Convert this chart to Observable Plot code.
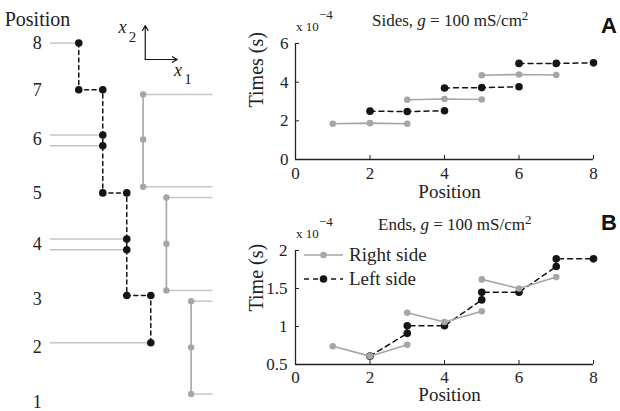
<!DOCTYPE html>
<html><head><meta charset="utf-8">
<script src="https://cdn.jsdelivr.net/npm/d3@7"></script>
<script src="https://cdn.jsdelivr.net/npm/@observablehq/plot@0.6"></script>
<style>
body{margin:0;background:#fff;}
#wrap{position:relative;width:620px;height:411px;overflow:hidden;font-family:"Liberation Serif",serif;}
#wrap > svg{position:absolute;background:transparent;overflow:visible;}
#wrap svg text{font-family:"Liberation Serif",serif;font-variant:normal;font-variant-numeric:normal;}
#wrap svg text.panel-letter{font-family:"Liberation Sans",sans-serif;font-weight:bold;}
</style></head><body><div id="wrap"></div>
<script>
// ---------- Panel A: sides ----------
const sidesRightPos   = [1, 2, 3,  3, 4, 5,  5, 6, 7];
const sidesRightVal   = [1.85, 1.88, 1.85,  3.09, 3.13, 3.10,  4.36, 4.40, 4.37];
const sidesRightGroup = [0, 0, 0,  1, 1, 1,  2, 2, 2];
const sidesLeftPos    = [2, 3, 4,  4, 5, 6,  6, 7, 8];
const sidesLeftVal    = [2.50, 2.48, 2.52,  3.70, 3.72, 3.76,  4.97, 4.97, 5.00];
const sidesLeftGroup  = [0, 0, 0,  1, 1, 1,  2, 2, 2];
const sidesTicks = [0, 2, 4, 6];

// ---------- Panel B: ends ----------
const endsRightPos   = [1, 2, 3,  3, 4, 5,  5, 6, 7];
const endsRightVal   = [0.74, 0.61, 0.76,  1.18, 1.06, 1.20,  1.62, 1.50, 1.65];
const endsRightGroup = [0, 0, 0,  1, 1, 1,  2, 2, 2];
const endsLeftPos    = [2, 3, 3, 4, 5, 5, 6, 7, 7, 8];
const endsLeftVal    = [0.61, 0.91, 1.01, 1.01, 1.35, 1.45, 1.45, 1.79, 1.89, 1.89];
const endsTicks = [0.5, 1, 1.5, 2];

const xTicks = [0, 2, 4, 6, 8];
const legendNames = ["Right side", "Left side"];

// ---------- Schematic (left) ----------
const rowLabels     = ["8", "7", "6", "5", "4", "3", "2", "1"];
const rowLabelLevel = [8.0, 7.09, 6.12, 5.08, 4.08, 3.0, 2.07, 1.0];
const chainCol   = [0, 0, 1, 1, 1, 1, 2, 2, 2, 2, 3, 3];
const chainLevel = [8.0, 7.09, 7.09, 6.21, 6.0, 5.08, 5.08, 4.18, 3.97, 3.08, 3.08, 2.16];
const inputIdx   = [0, 3, 4, 7, 8, 11];
const rightCol   = [2.68, 2.68, 2.68,  3.65, 3.65, 3.65,  4.68, 4.68, 4.68];
const rightLevel = [7.0, 6.12, 5.2,  4.99, 4.09, 3.18,  2.97, 2.07, 1.16];
const rightGroup = [0, 0, 0,  1, 1, 1,  2, 2, 2];
const outputIdx  = [0, 2, 3, 5, 6, 8];

const GRAY = "#a6a6a6", LIGHT = "#c6c6c6", BLACK = "#151515";
const FONT = "Liberation Serif";
const fmt = d => String(d);
const blank = () => "";

const wrap = document.getElementById("wrap");
function place(svg, left, top) { svg.style.left = left + "px"; svg.style.top = top + "px"; wrap.appendChild(svg); }

// ---- schematic plot ----
const chain = chainCol.map((c, i) => ({c, l: chainLevel[i]}));
const inputs = inputIdx.map(i => chain[i]);
const rightNodes = rightCol.map((c, i) => ({c, l: rightLevel[i], g: rightGroup[i]}));
const outputs = outputIdx.map(i => rightNodes[i]);
const inStart = -1.21, outEnd = 5.57, labelCol = -1.73;
const origin = [{x: 2.77, y: 7.68}];

const schem = Plot.plot({
  width: 230, height: 411, margin: 0,
  style: {background: "transparent", fontFamily: FONT},
  x: {domain: [-3.26, 6.32], axis: null},
  y: {domain: [0.82, 8.83], axis: null},
  marks: [
    Plot.link(inputs, {x1: inStart, x2: "c", y1: "l", y2: "l", stroke: LIGHT, strokeWidth: 1.5}),
    Plot.link(outputs, {x1: "c", x2: outEnd, y1: "l", y2: "l", stroke: LIGHT, strokeWidth: 1.5}),
    Plot.line(rightNodes, {x: "c", y: "l", z: "g", stroke: GRAY, strokeWidth: 1.6}),
    Plot.dot(rightNodes, {x: "c", y: "l", r: 3.2, fill: GRAY}),
    Plot.line(chain, {x: "c", y: "l", stroke: BLACK, strokeWidth: 1.5, strokeDasharray: "4,3.5"}),
    Plot.dot(chain, {x: "c", y: "l", r: 3.8, fill: BLACK}),
    Plot.text(rowLabels, {x: labelCol, y: (d, i) => rowLabelLevel[i], text: d => d, fontSize: 18, fontFamily: FONT, fill: "#222"}),
    Plot.text(["Position"], {x: -1.72, y: 8.45, text: d => d, fontSize: 20, fontFamily: FONT, fill: "#222"}),
    Plot.arrow(origin, {x1: "x", y1: "y", x2: "x", y2: 8.34, stroke: BLACK, strokeWidth: 1.2, headLength: 7}),
    Plot.arrow(origin, {x1: "x", y1: "y", x2: 4.1, y2: "y", stroke: BLACK, strokeWidth: 1.2, headLength: 7}),
    Plot.text(["x"], {x: 1.82, y: 8.3, text: d => d, fontSize: 18, fontStyle: "italic", fontFamily: FONT, fill: "#222"}),
    Plot.text(["2"], {x: 1.82, y: 8.3, text: d => d, fontSize: 15, dx: 10, dy: 9, fontFamily: FONT, fill: "#222"}),
    Plot.text(["x"], {x: 4.13, y: 7.47, text: d => d, fontSize: 18, fontStyle: "italic", fontFamily: FONT, fill: "#222"}),
    Plot.text(["1"], {x: 4.13, y: 7.47, text: d => d, fontSize: 15, dx: 10, dy: 9, fontFamily: FONT, fill: "#222"})
  ]
});
place(schem, 0, 0);

// ---- helpers for panel annotations ----
function annotate(svg, {title, titleX, titleY, expY, letter, letterY}) {
  const s = d3.select(svg);
  const t = s.append("text").attr("x", titleX).attr("y", titleY).attr("text-anchor", "start")
    .attr("font-size", 17).attr("fill", "#222");
  t.append("tspan").text(title + ", ");
  t.append("tspan").attr("font-style", "italic").text("g");
  t.append("tspan").text(" = 100 mS/cm");
  t.append("tspan").attr("font-size", 13).attr("dy", -6).text("2");
  s.append("text").attr("x", 66).attr("y", expY).attr("text-anchor", "start").attr("font-size", 13).attr("fill", "#222").text("x 10");
  s.append("text").attr("x", 89).attr("y", expY - 12).attr("text-anchor", "start").attr("font-size", 13).attr("fill", "#222").text("\u22124");
  s.append("text").attr("class", "panel-letter").attr("x", 371).attr("y", letterY).attr("text-anchor", "start")
    .attr("font-size", 22).attr("fill", "#111").text(letter);
}

function axes(ticksY, padX, padY) {
  return [
    Plot.axisX({ticks: xTicks, tickFormat: fmt, tickSize: 0, tickPadding: padX, fontSize: 17, fontFamily: FONT, fontVariant: "normal", label: null}),
    Plot.axisX({ticks: xTicks, tickFormat: blank, tickSize: 4, dy: -4, label: null, stroke: "#222"}),
    Plot.axisY({ticks: ticksY, tickFormat: fmt, tickSize: 0, tickPadding: padY, fontSize: 17, fontFamily: FONT, fontVariant: "normal", label: null}),
    Plot.axisY({ticks: ticksY, tickFormat: blank, tickSize: 4, dx: 4, label: null, stroke: "#222"})
  ];
}

// ---- Panel A ----
const sRight = sidesRightPos.map((p, i) => ({p, t: sidesRightVal[i], g: sidesRightGroup[i]}));
const sLeft = sidesLeftPos.map((p, i) => ({p, t: sidesLeftVal[i], g: sidesLeftGroup[i]}));
const A = Plot.plot({
  width: 390, height: 205, marginLeft: 65, marginRight: 27, marginTop: 43, marginBottom: 46,
  style: {background: "transparent", fontFamily: FONT, color: "#222", overflow: "visible"},
  x: {domain: [0, 8]}, y: {domain: [0, 6]},
  marks: [
    ...axes(sidesTicks, 7, 7),
    Plot.ruleY([0], {stroke: "#222", strokeWidth: 1.3}),
    Plot.ruleX([0], {stroke: "#222", strokeWidth: 1.3}),
    Plot.line(sRight, {x: "p", y: "t", z: "g", stroke: GRAY, strokeWidth: 1.6}),
    Plot.dot(sRight, {x: "p", y: "t", r: 3.3, fill: GRAY}),
    Plot.line(sLeft, {x: "p", y: "t", z: "g", stroke: BLACK, strokeWidth: 1.5, strokeDasharray: "5,4"}),
    Plot.dot(sLeft, {x: "p", y: "t", r: 3.8, fill: BLACK}),
    Plot.text(["Position"], {frameAnchor: "bottom", dx: 5, dy: 38, fontSize: 19, fontFamily: FONT, text: d => d}),
    Plot.text(["Times (s)"], {frameAnchor: "left", dx: -39, dy: 6, rotate: -90, fontSize: 20, fontFamily: FONT, text: d => d})
  ]
});
annotate(A, {title: "Sides", titleX: 142, titleY: 26, expY: 31, letter: "A", letterY: 33});
place(A, 230, 0);

// ---- Panel B ----
const eRight = endsRightPos.map((p, i) => ({p, t: endsRightVal[i], g: endsRightGroup[i]}));
const eLeft = endsLeftPos.map((p, i) => ({p, t: endsLeftVal[i]}));
const B = Plot.plot({
  width: 390, height: 211, marginLeft: 65, marginRight: 27, marginTop: 50, marginBottom: 47,
  style: {background: "transparent", fontFamily: FONT, color: "#222", overflow: "visible"},
  x: {domain: [0, 8]}, y: {domain: [0.5, 2]},
  marks: [
    ...axes(endsTicks, 6, 8),
    Plot.ruleY([0.5], {stroke: "#222", strokeWidth: 1.3}),
    Plot.ruleX([0], {stroke: "#222", strokeWidth: 1.3}),
    Plot.line(eLeft, {x: "p", y: "t", stroke: BLACK, strokeWidth: 1.5, strokeDasharray: "5,4"}),
    Plot.dot(eLeft, {x: "p", y: "t", r: 3.8, fill: BLACK}),
    Plot.line(eRight, {x: "p", y: "t", z: "g", stroke: GRAY, strokeWidth: 1.6}),
    Plot.dot(eRight, {x: "p", y: "t", r: 3.3, fill: GRAY}),
    Plot.text(["Position"], {frameAnchor: "bottom", dx: 5, dy: 36, fontSize: 19, fontFamily: FONT, text: d => d}),
    Plot.text(["Time (s)"], {frameAnchor: "left", dx: -39, dy: 4, rotate: -90, fontSize: 20, fontFamily: FONT, text: d => d})
  ]
});
annotate(B, {title: "Ends", titleX: 148, titleY: 30, expY: 38, letter: "B", letterY: 30});
// legend
{
  const s = d3.select(B);
  const rows = [{name: legendNames[0], color: GRAY, dash: null, r: 3.3, y: 55},
                {name: legendNames[1], color: BLACK, dash: "5,4", r: 3.8, y: 79}];
  for (const row of rows) {
    s.append("line").attr("x1", 74).attr("x2", 113).attr("y1", row.y).attr("y2", row.y)
      .attr("stroke", row.color).attr("stroke-width", 1.5).attr("stroke-dasharray", row.dash);
    s.append("circle").attr("cx", 93.5).attr("cy", row.y).attr("r", row.r).attr("fill", row.color);
    s.append("text").attr("x", 119).attr("y", row.y + 6).attr("text-anchor", "start").attr("font-size", 19)
      .attr("fill", "#222").text(row.name);
  }
}
place(B, 230, 200);
</script></body></html>
